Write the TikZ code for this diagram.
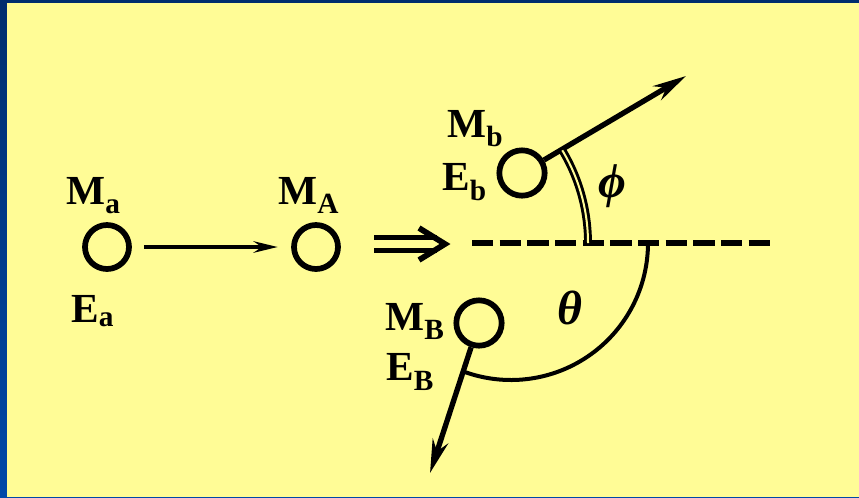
\documentclass[tikz,border=0pt]{standalone}
\usepackage{fontspec}
\setmainfont{Liberation Serif}
\usetikzlibrary{arrows.meta}
\definecolor{bgyel}{RGB}{255,252,150}
\definecolor{bgblue}{RGB}{0,72,168}
\definecolor{topblue}{RGB}{0,45,110}
\newcommand{\lowsub}[2][7pt]{\raisebox{-#1}{\fontsize{22}{22}\selectfont #2}}
\begin{document}
\begin{tikzpicture}[x=0.75pt,y=-0.75pt,
  lbl/.style={font=\bfseries\fontsize{31}{31}\selectfont, inner sep=0pt, anchor=base west},
  greek/.style={font=\bfseries\itshape\fontsize{36}{36}\selectfont, inner sep=0pt},
  ball/.style={circle, draw, line width=4.3pt, minimum size=#1, inner sep=0pt},
  ball/.default=33pt,
  vec/.style={line width=4pt, -{Stealth[length=25pt,width=12pt,inset=8pt]}},
  smallvec/.style={line width=3.3pt, -{Stealth[length=18pt,width=8.5pt,inset=6pt]}, shorten <=9pt, shorten >=10pt},
  refline/.style={line width=5.2pt, dash pattern=on 16pt off 4.75pt},
  dblarc/.style={line width=2.2pt, double=bgyel, double distance=1.5pt},
  thetaarc/.style={line width=3pt},
  implies/.style={line width=4.3pt}]
\shade[top color=topblue, bottom color=bgblue] (0,0) rectangle (859,497);
\fill[topblue] (0,0) rectangle (859,3);
\fill[bgyel] (7,3) rectangle (859,497);
\useasboundingbox (0,0) rectangle (859,497);

% particles
\node[ball] (Ma) at (107,247) {};
\node[ball] (MA) at (316,247) {};
\node[ball=34pt] (b) at (522,173) {};
\node[ball=34pt] (B) at (479,323) {};

% labels
\node[lbl] (tMa) at (66,204) {M\lowsub{a}};
\node[lbl] (tMA) at (278,204) {M\lowsub{A}};
\node[lbl] (tEa) at (71,322) {E\lowsub[3pt]{a}};
\node[lbl] (tMb) at (447,137) {M\lowsub{b}};
\node[lbl] (tEb) at (442,190) {E\lowsub[8pt]{b}};
\node[lbl] (tMB) at (385,330) {M\lowsub{B}};
\node[lbl] (tEB) at (386,380) {E\lowsub[8pt]{B}};

% incoming arrow
\draw[smallvec] (Ma) -- (MA);

% implies symbol
\draw[implies] (374,237.5) -- (437,237.5) (374,250.5) -- (437,250.5);
\draw[implies, line join=miter] (419,228) -- (445,244) -- (419,260);

% reference line
\coordinate (dl) at (472,243);
\coordinate (dr) at (772,243);
\draw[refline] (dl) -- (dr);

% outgoing arrows
\coordinate (bt) at (686,76);
\coordinate (Bt) at (430,473);
\draw[vec] (b) -- (bt);
\draw[vec] (B) -- (Bt);

% angles
\coordinate (vphi) at (408,243);
\draw[dblarc] (vphi) ++(0:180) arc[start angle=0, end angle=-31, radius=180];
\coordinate (vth) at (511,243);
\draw[thetaarc] (vth) ++(0:137) arc[start angle=0, end angle=110, radius=137];

\node[greek] (phi) at (612,186) {ϕ};
\node[greek] (th) at (570,308) {θ};
\end{tikzpicture}
\end{document}
